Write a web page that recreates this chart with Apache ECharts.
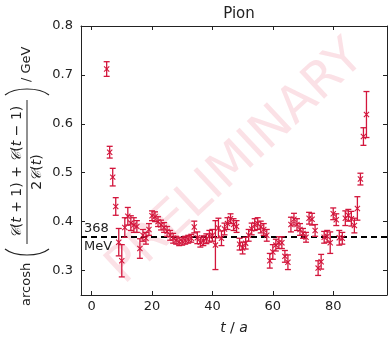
<!DOCTYPE html>
<html><head><meta charset="utf-8">
<script src="https://cdn.jsdelivr.net/npm/echarts@6/dist/echarts.min.js"></script>
<style>html,body{margin:0;padding:0;background:#fff}#c{width:389px;height:340px}</style>
</head><body><div id="c"></div>
<script>
const tValues = [5,6,7,8,9,10,11,12,13,14,15,16,17,18,19,20,21,22,23,24,25,26,27,28,29,30,31,32,33,34,35,36,37,38,39,40,41,42,43,44,45,46,47,48,49,50,51,52,53,54,55,56,57,58,59,60,61,62,63,64,65,66,67,68,69,70,71,72,73,74,75,76,77,78,79,80,81,82,83,84,85,86,87,88,89,90,91];
const effMass = [0.712,0.542,0.491,0.431,0.358,0.320,0.388,0.411,0.397,0.393,0.390,0.345,0.372,0.366,0.384,0.412,0.410,0.400,0.393,0.388,0.380,0.372,0.366,0.362,0.359,0.360,0.362,0.364,0.366,0.389,0.367,0.358,0.361,0.365,0.370,0.372,0.352,0.387,0.366,0.385,0.396,0.406,0.394,0.390,0.354,0.346,0.356,0.372,0.385,0.394,0.396,0.389,0.384,0.372,0.320,0.338,0.352,0.357,0.357,0.329,0.317,0.394,0.405,0.394,0.384,0.376,0.368,0.407,0.405,0.382,0.305,0.318,0.368,0.370,0.357,0.416,0.404,0.367,0.366,0.407,0.413,0.406,0.392,0.427,0.487,0.574,0.619];
const effErr = [0.015,0.012,0.018,0.018,0.028,0.033,0.020,0.018,0.015,0.015,0.012,0.020,0.012,0.012,0.012,0.010,0.010,0.010,0.010,0.010,0.010,0.010,0.010,0.008,0.008,0.008,0.008,0.008,0.008,0.012,0.012,0.010,0.010,0.010,0.012,0.012,0.050,0.020,0.015,0.012,0.012,0.010,0.012,0.012,0.012,0.012,0.012,0.012,0.012,0.012,0.012,0.012,0.012,0.012,0.015,0.015,0.012,0.012,0.012,0.012,0.015,0.015,0.012,0.012,0.012,0.010,0.010,0.012,0.012,0.012,0.015,0.015,0.012,0.012,0.022,0.012,0.012,0.015,0.012,0.015,0.012,0.015,0.015,0.024,0.012,0.018,0.047];
const xTicks = [0,20,40,60,80];
const yTicks = [0.3,0.4,0.5,0.6,0.7,0.8];
const plateau = 0.368;
const plateauLabel = ['368','MeV'];
const titleText = 'Pion';
const watermark = 'PRELIMINARY';

const RED = '#d3163c';
const FONT = '"DejaVu Sans", "Noto Sans", sans-serif';
const chart = echarts.init(document.getElementById('c'), null, {renderer:'canvas'});

const data = tValues.map((t,i)=>[t, effMass[i], effErr[i]]);

function axisCommon(extra){
  return Object.assign({
    axisLine:{show:true, onZero:false, lineStyle:{color:'#222', width:1}},
    axisTick:{show:true, inside:true, length:4, lineStyle:{color:'#222'}},
    splitLine:{show:false},
  }, extra);
}

const option = {
  animation:false,
  backgroundColor:'#fff',
  title:{text:titleText, left:234, top:2, textAlign:'center', textStyle:{fontFamily:FONT, fontSize:15, fontWeight:'normal', color:'#222'}},
  grid:{left:81, right:2, top:26, bottom:39, containLabel:false},
  xAxis:[
    axisCommon({type:'value', min:-3.5, max:97.8, position:'bottom',
      axisTick:{show:true, inside:true, length:4, customValues:xTicks, lineStyle:{color:'#222'}},
      axisLabel:{customValues:xTicks, fontFamily:FONT, fontSize:13, color:'#222', margin:5},
      name:'{i|t} / {i|a}', nameLocation:'middle', nameGap:26,
      nameTextStyle:{fontFamily:FONT, fontSize:14, color:'#222', rich:{i:{fontStyle:'italic', fontFamily:FONT, fontSize:14, color:'#222'}}}}),
    axisCommon({type:'value', min:-3.5, max:97.8, position:'top',
      axisTick:{show:true, inside:true, length:4, customValues:xTicks, lineStyle:{color:'#222'}},
      axisLabel:{show:false}})
  ],
  yAxis:[
    axisCommon({type:'value', min:0.25, max:0.8, position:'left',
      axisTick:{show:true, inside:true, length:4, customValues:yTicks, lineStyle:{color:'#222'}},
      axisLabel:{customValues:yTicks, fontFamily:FONT, fontSize:13, color:'#222', margin:8, formatter:v=>v.toFixed(1)}}),
    axisCommon({type:'value', min:0.25, max:0.8, position:'right',
      axisTick:{show:true, inside:true, length:4, customValues:yTicks, lineStyle:{color:'#222'}},
      axisLabel:{show:false}})
  ],
  series:[
    {
      type:'custom', xAxisIndex:0, yAxisIndex:0, z:5, data:data,
      renderItem:function(params, api){
        const x = api.value(0), v = api.value(1), e = api.value(2);
        const p = api.coord([x,v]);
        const hi = api.coord([x,v+e]);
        const lo = api.coord([x,v-e]);
        const c = 3, m = 2.6;
        const st = {stroke:RED, lineWidth:1.3};
        return {type:'group', children:[
          {type:'line', shape:{x1:p[0],y1:hi[1],x2:p[0],y2:lo[1]}, style:st},
          {type:'line', shape:{x1:p[0]-c,y1:hi[1],x2:p[0]+c,y2:hi[1]}, style:st},
          {type:'line', shape:{x1:p[0]-c,y1:lo[1],x2:p[0]+c,y2:lo[1]}, style:st},
          {type:'line', shape:{x1:p[0]-m,y1:p[1]-m,x2:p[0]+m,y2:p[1]+m}, style:{stroke:RED, lineWidth:1.1}},
          {type:'line', shape:{x1:p[0]-m,y1:p[1]+m,x2:p[0]+m,y2:p[1]-m}, style:{stroke:RED, lineWidth:1.1}}
        ]};
      }
    },
    {
      type:'line', data:[], z:10,
      markLine:{silent:true, symbol:['none','none'], label:{show:false},
        lineStyle:{color:'#000', width:2, type:[6,4]},
        data:[{yAxis:plateau}]}
    }
  ]
};
chart.setOption(option);

const pl = chart.convertToPixel({xAxisIndex:0, yAxisIndex:0}, [-3.5, plateau]);
const txt = (s, x, y, align, valign, font) => ({type:'text', x:x, y:y,
  style:{text:s, font:font || '13px "DejaVu Sans", sans-serif', fill:'#222', align:align, verticalAlign:valign, textAlign:align, textVerticalAlign:valign}});
const richC = {c:{fontFamily:'"DejaVu Serif", serif', fontStyle:'italic', fontSize:14, fill:'#222'}, i:{fontFamily:'"DejaVu Sans", sans-serif', fontStyle:'italic', fontSize:14, fill:'#222'}};
const num = txt('{c|𝒞}({i|t} + 1) + {c|𝒞}({i|t} − 1)', 134, -10, 'center', 'middle', '14px "DejaVu Sans", sans-serif');
num.style.rich = richC;
const den = txt('2{c|𝒞}({i|t})', 134, 10, 'center', 'middle', '14px "DejaVu Sans", sans-serif');
den.style.rich = richC;

const graphics = [
  {type:'text', x:236, y:163, rotation:0.75, z:-10, silent:true,
   style:{text:watermark, font:'50px "DejaVu Sans", sans-serif', fill:'rgba(228,40,80,0.14)', align:'center', verticalAlign:'middle', textAlign:'center', textVerticalAlign:'middle'}},
  Object.assign(txt(plateauLabel[0], pl[0]+3, pl[1]-2, 'left', 'bottom'), {z:20}),
  Object.assign(txt(plateauLabel[1], pl[0]+3, pl[1]+3, 'left', 'top'), {z:20}),
  {type:'group', x:27, y:306, rotation:Math.PI/2, z:20, children:[
    txt('arcosh', 0, 0, 'left', 'middle'),
    {type:'bezierCurve', shape:{x1:57, y1:-22, x2:57, y2:22, cpx1:49, cpy1:-12, cpx2:49, cpy2:12}, style:{stroke:'#222', fill:null, lineWidth:1.2}},
    num,
    {type:'line', shape:{x1:62, y1:0, x2:206, y2:0}, style:{stroke:'#222', lineWidth:1}},
    den,
    {type:'bezierCurve', shape:{x1:211, y1:-22, x2:211, y2:22, cpx1:219, cpy1:-12, cpx2:219, cpy2:12}, style:{stroke:'#222', fill:null, lineWidth:1.2}},
    txt('/ GeV', 224, 0, 'left', 'middle')
  ]}
];
chart.setOption({graphic:graphics});
</script>
</body></html>
